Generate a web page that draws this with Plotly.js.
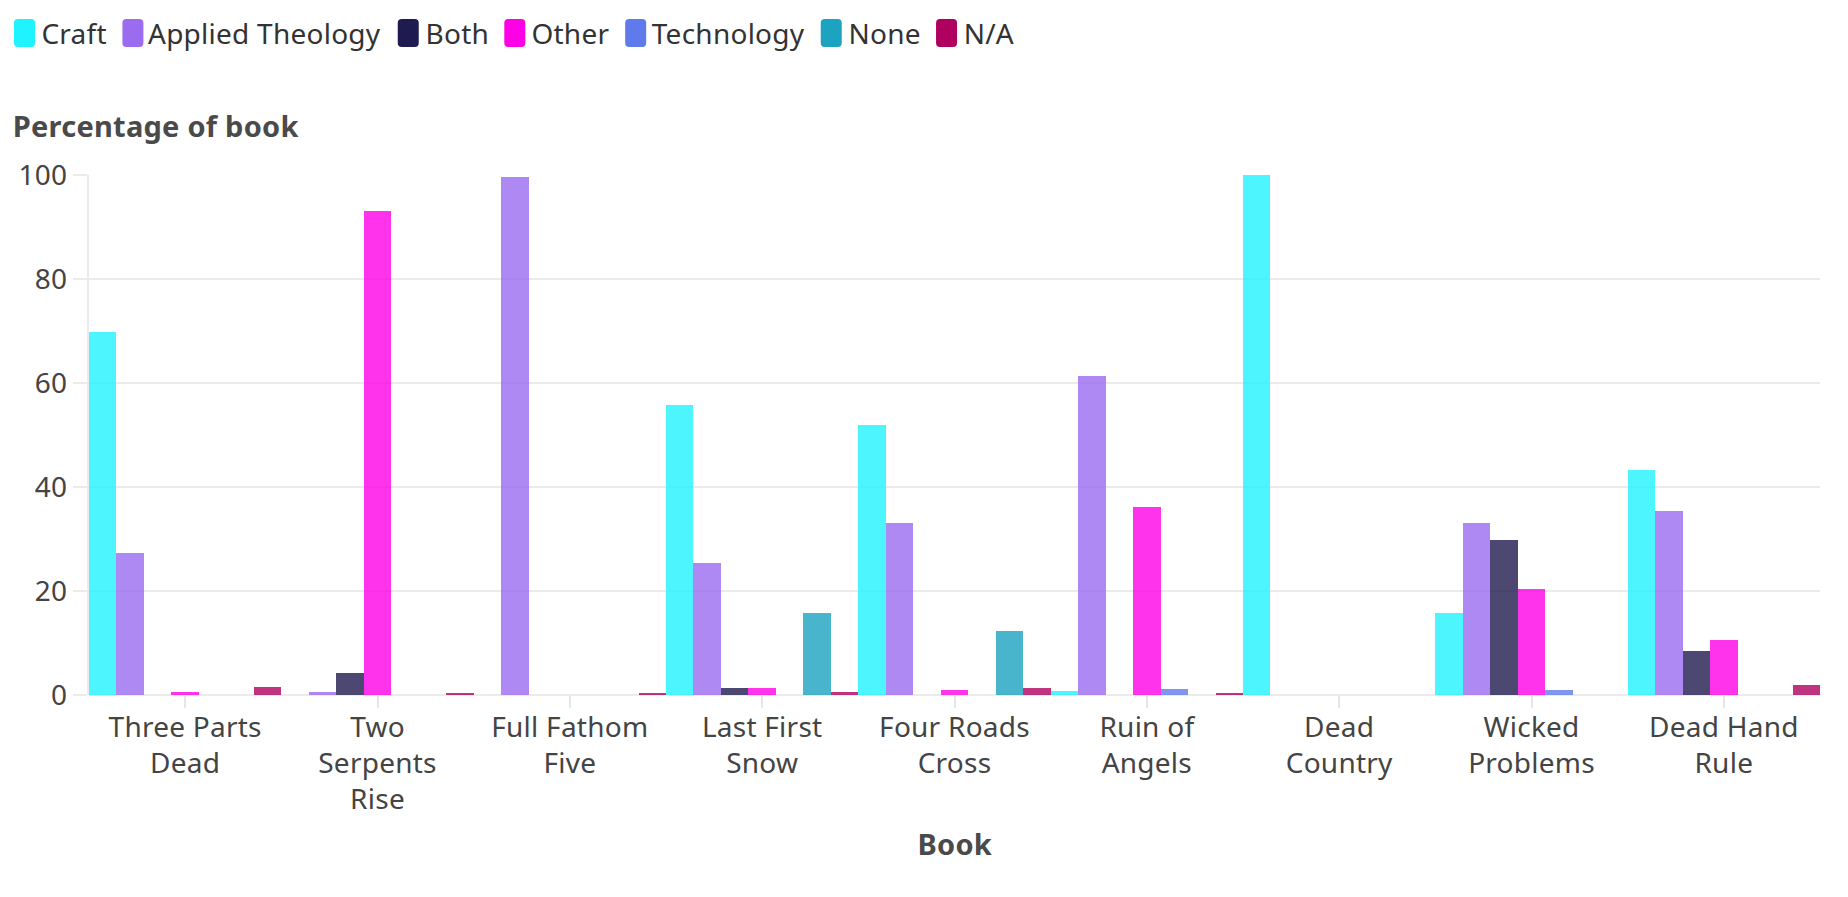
<!DOCTYPE html>
<html>
<head>
<meta charset="utf-8">
<script src="https://cdn.plot.ly/plotly-3.0.1.min.js"></script>
<style>
html,body{margin:0;padding:0;background:#fff;}
#chart{width:1848px;height:897px;}
#chart svg text{letter-spacing:0.25px;}
</style>
</head>
<body>
<div id="chart"></div>
<script>
// ---- data ----
const books = ["Three Parts Dead","Two Serpents Rise","Full Fathom Five","Last First Snow","Four Roads Cross","Ruin of Angels","Dead Country","Wicked Problems","Dead Hand Rule"];
const bookLabels = ["Three Parts<br>Dead","Two<br>Serpents<br>Rise","Full Fathom<br>Five","Last First<br>Snow","Four Roads<br>Cross","Ruin of<br>Angels","Dead<br>Country","Wicked<br>Problems","Dead Hand<br>Rule"];
const seriesNames = ["Craft","Applied Theology","Both","Other","Technology","None","N/A"];
const craft        = [69.8, 0,   0,    55.8, 51.9, 0.8,  100, 15.7, 43.2];
const appliedTheol = [27.4, 0.5, 99.6, 25.3, 33.0, 61.3, 0,   33.1, 35.3];
const both         = [0,    4.2, 0,    1.3,  0,    0,    0,   29.8, 8.5];
const other        = [0.5,  93.1,0,    1.3,  1.0,  36.1, 0,   20.3, 10.6];
const technology   = [0,    0,   0,    0,    0,    1.1,  0,   0.9,  0];
const none         = [0,    0,   0,    15.7, 12.4, 0,    0,   0,    0];
const na           = [1.5,  0.3, 0.2,  0.5,  1.3,  0.4,  0,   0,    1.9];
const yTicks = [0,20,40,60,80,100];

// ---- styles ----
const colors = ["#1ff3ff","#9b6cf0","#1f1a4f","#ff00e6","#5f7aeb","#1ba3bf","#b0005f"];
const FONT = "'Noto Sans', Lato, sans-serif";
const FS = 28;
const FS_TITLE = 29;
const W = 1848, H = 897;
const M = {l:89, r:28, t:175, b:202};
const PW = W - M.l - M.r, PH = H - M.t - M.b;
const px2x = p => (p - M.l) / PW;
const px2y = p => (H - M.b - p) / PH;

const values = [craft, appliedTheol, both, other, technology, none, na];
const traces = seriesNames.map((name, i) => ({
  type: "bar",
  name: name,
  x: books,
  y: values[i],
  marker: {color: colors[i], opacity: 0.8, line: {width: 0}},
  showlegend: false,
  hoverinfo: "x+y+name"
}));

// ---- custom legend (rounded squares + text) ----
const canvas = document.createElement("canvas");
const ctx = canvas.getContext("2d");
ctx.font = FS + "px 'Noto Sans'";
try { ctx.letterSpacing = "0.25px"; } catch (e) {}
const shapes = [];
const annotations = [];
let lx = 14;
const sqTop = 19, sqBot = 47, sqW = 21, rad = 4;
seriesNames.forEach((name, i) => {
  const x0 = lx, x1 = lx + sqW;
  const X = v => px2x(v), Y = v => px2y(v);
  const path = `M${X(x0+rad)},${Y(sqTop)} L${X(x1-rad)},${Y(sqTop)} Q${X(x1)},${Y(sqTop)} ${X(x1)},${Y(sqTop+rad)} ` +
               `L${X(x1)},${Y(sqBot-rad)} Q${X(x1)},${Y(sqBot)} ${X(x1-rad)},${Y(sqBot)} ` +
               `L${X(x0+rad)},${Y(sqBot)} Q${X(x0)},${Y(sqBot)} ${X(x0)},${Y(sqBot-rad)} ` +
               `L${X(x0)},${Y(sqTop+rad)} Q${X(x0)},${Y(sqTop)} ${X(x0+rad)},${Y(sqTop)} Z`;
  shapes.push({type:"path", xref:"paper", yref:"paper", path: path, fillcolor: colors[i], line:{width:0}});
  const tw = ctx.measureText(name).width;
  annotations.push({
    xref:"paper", yref:"paper", x: px2x(x1 + 6), y: px2y(33),
    xanchor:"left", yanchor:"middle", showarrow:false, text: name,
    font:{family: FONT, size: FS, color:"#333333"}, borderpad:0
  });
  lx = x1 + 7 + tw + 15;
});

// axis titles
annotations.push({
  xref:"paper", yref:"paper", x: px2x(13), y: px2y(126),
  xanchor:"left", yanchor:"middle", showarrow:false,
  text:"<b>Percentage of book</b>",
  font:{family: FONT, size: FS_TITLE, color:"#4a4a4a"}
});
annotations.push({
  xref:"paper", yref:"paper", x: 0.5, y: px2y(844),
  xanchor:"center", yanchor:"middle", showarrow:false,
  text:"<b>Book</b>",
  font:{family: FONT, size: FS_TITLE, color:"#4a4a4a"}
});

const layout = {
  width: W, height: H,
  margin: M,
  paper_bgcolor: "#ffffff",
  plot_bgcolor: "#ffffff",
  barmode: "group",
  bargap: 0,
  bargroupgap: 0,
  showlegend: false,
  font: {family: FONT, size: FS, color: "#444444"},
  xaxis: {
    type: "category",
    tickmode: "array",
    tickvals: books,
    ticktext: bookLabels,
    ticks: "outside",
    ticklen: 12,
    tickwidth: 2,
    tickcolor: "#e6e6e6",
    ticklabelstandoff: -5,
    showgrid: false,
    zeroline: false,
    showline: false,
    tickfont: {family: FONT, size: FS, color: "#444444"},
    automargin: false
  },
  yaxis: {
    range: [0, 100],
    tickmode: "array",
    tickvals: yTicks,
    ticks: "outside",
    ticklen: 14,
    tickwidth: 2,
    tickcolor: "#ebebeb",
    showgrid: true,
    gridcolor: "#ebebeb",
    gridwidth: 2,
    zeroline: true,
    zerolinecolor: "#ebebeb",
    zerolinewidth: 2,
    showline: true,
    linecolor: "#ebebeb",
    linewidth: 2,
    tickfont: {family: FONT, size: FS, color: "#444444"},
    automargin: false
  },
  shapes: shapes,
  annotations: annotations
};

Plotly.newPlot("chart", traces, layout, {displayModeBar: false, responsive: false});
</script>
</body>
</html>
